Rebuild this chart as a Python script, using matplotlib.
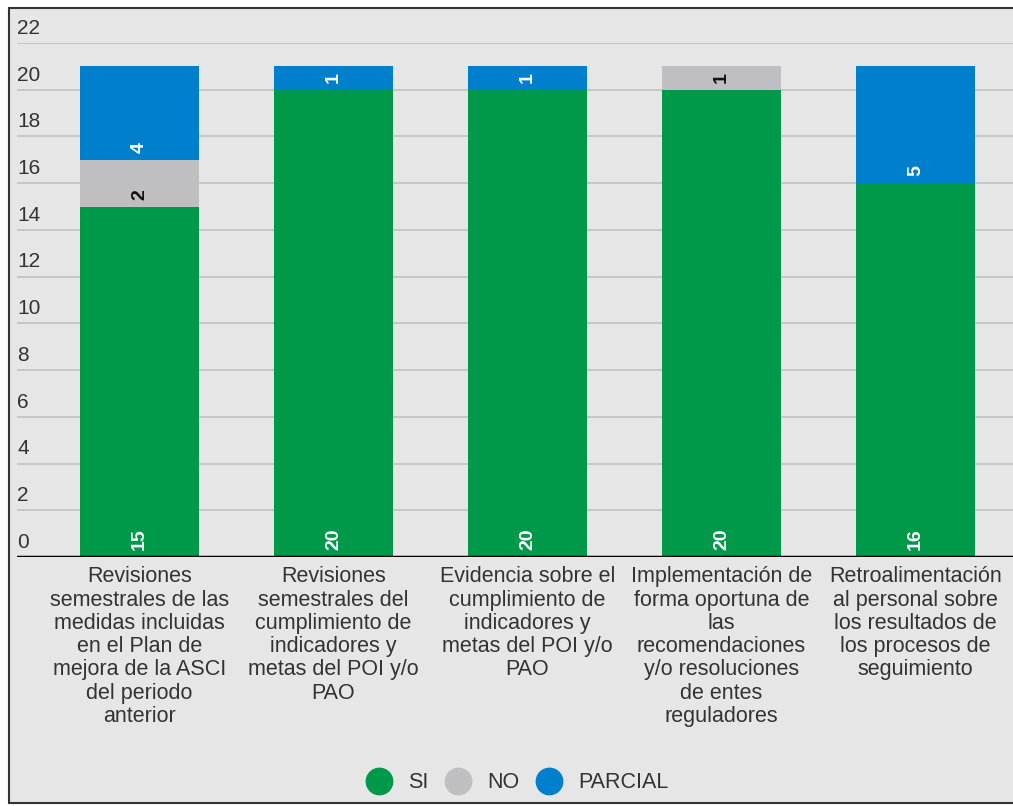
import matplotlib.pyplot as plt
from matplotlib.patches import Rectangle
from matplotlib.lines import Line2D
import numpy as np

plt.rcParams['font.family'] = ['Liberation Sans', 'DejaVu Sans']

# Data
categories = [
    "Revisiones\nsemestrales de las\nmedidas incluidas\nen el Plan de\nmejora de la ASCI\ndel periodo\nanterior",
    "Revisiones\nsemestrales del\ncumplimiento de\nindicadores y\nmetas del POI y/o\nPAO",
    "Evidencia sobre el\ncumplimiento de\nindicadores y\nmetas del POI y/o\nPAO",
    "Implementación de\nforma oportuna de\nlas\nrecomendaciones\ny/o resoluciones\nde entes\nreguladores",
    "Retroalimentación\nal personal sobre\nlos resultados de\nlos procesos de\nseguimiento",
]
si = [15, 20, 20, 20, 16]
no = [2, 0, 0, 1, 0]
parcial = [4, 1, 1, 0, 5]
series_names = ["SI", "NO", "PARCIAL"]
yticks = [0, 2, 4, 6, 8, 10, 12, 14, 16, 18, 20, 22]

colors = ["#00994a", "#bfbfc1", "#0080cc"]
label_colors = ["white", "#111111", "white"]

W, H = 1013, 806
fig = plt.figure(figsize=(W / 100, H / 100), dpi=100)
fig.patch.set_facecolor("white")

# outer frame
frame = Rectangle((9 / W, 1 - 803 / H), (W + 10 - 9) / W, (803 - 8) / H,
                  transform=fig.transFigure, facecolor="#e6e6e6",
                  edgecolor="#333333", linewidth=1.5, zorder=-10)
fig.add_artist(frame)

ax = fig.add_axes([17 / W, 1 - 557 / H, (W - 17) / W, (557 - 43) / H])
ax.set_facecolor("none")
for s in ax.spines.values():
    s.set_visible(False)

x = np.arange(len(categories))
ax.set_xlim((17 - 139.5) / 194, (W - 139.5) / 194)
ax.set_ylim(0, 22)

for t in yticks[1:]:
    ax.axhline(t, color="#c4c4c4", lw=1.3, zorder=1)
ax.axhline(0, color="black", lw=2.5, zorder=4)

trans = ax.get_yaxis_transform()
for t in yticks:
    ax.text(0.0, t + 0.22, str(t), transform=trans, ha="left", va="bottom",
            fontsize=15, color="#333333")

bottom = np.zeros(len(categories))
for vals, name, c, lc in zip([si, no, parcial], series_names, colors, label_colors):
    vals = np.array(vals)
    ax.bar(x, vals, 0.615, bottom=bottom, color=c, zorder=2, label=name)
    for xi, v, b in zip(x, vals, bottom):
        if v > 0:
            ax.annotate(str(v), (xi, b), xytext=(0, 5), textcoords="offset points",
                        rotation=90, ha="center", va="bottom", fontsize=14,
                        fontweight="bold", color=lc, zorder=5)
    bottom = bottom + vals

ax.set_xticks([])
ax.set_yticks([])

for xi, cat in zip(x, categories):
    ax.text(xi, -0.4, cat, ha="center", va="top", fontsize=15.5,
            color="#333333", linespacing=1.14)

handles = [Line2D([], [], marker="o", ls="", markersize=19, color=c) for c in colors]
fig.legend(handles, series_names, loc="center", bbox_to_anchor=(513 / W, 1 - 783 / H),
           ncol=3, frameon=False, fontsize=15.5, handletextpad=0.35, columnspacing=0.4,
           labelcolor="#333333")

fig.savefig("out.png", dpi=100)
